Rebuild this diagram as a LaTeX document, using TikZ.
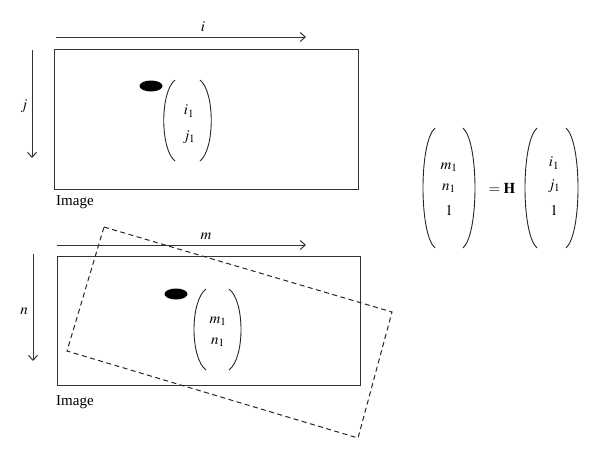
\documentclass[tikz,border=0pt]{standalone}
\usepackage{mathptmx}
\usepackage{fontspec}
\setmainfont{Liberation Serif}
\usetikzlibrary{arrows.meta,shapes.geometric}
\begin{document}
\begin{tikzpicture}[x=1pt,y=-1pt,
  frame/.style={draw=black!80,line width=1pt},
  axis/.style={draw=black!80,line width=1pt,-{Straight Barb[length=5pt,width=9pt]}},
  dot/.style={ellipse,fill=black,inner sep=0pt,minimum width=23pt,minimum height=11pt},
  lbl/.style={font=\fontsize{15}{17}\selectfont,inner sep=0pt},
  par/.style={draw=black!85,line width=0.9pt}]
\useasboundingbox (0,0) rectangle (600,461);
% top image
\coordinate (tl1) at (54,49.5); \coordinate (br1) at (358,189);
\draw[frame] (tl1) rectangle (br1);
\coordinate (ia) at (56,37); \coordinate (ib) at (306,37);
\draw[axis] (ia) -- (ib);
\node[lbl] (il) at (203,27) {$i$};
\coordinate (ja) at (32,50); \coordinate (jb) at (32,158);
\draw[axis] (ja) -- (jb);
\node[lbl] (jl) at (24,106) {$j$};
\node[dot] (d1) at (151,86) {};
\node[lbl,anchor=west] (im1) at (56,202) {Image};
\node[lbl] (v1a) at (189,111) {$i_1$};
\node[lbl] (v1b) at (189,137) {$j_1$};
\draw[par] (175,80) .. controls (160,92) and (160,149) .. (175,161);
\draw[par] (200,80) .. controls (215,92) and (215,149) .. (200,161);
% bottom image
\coordinate (tl2) at (57,256.5); \coordinate (br2) at (360,385.5);
\draw[frame] (tl2) rectangle (br2);
\coordinate (ma) at (57,245); \coordinate (mb) at (306,245);
\draw[axis] (ma) -- (mb);
\node[lbl] (ml) at (206,236) {$m$};
\coordinate (na) at (33,254); \coordinate (nb) at (33,361);
\draw[axis] (na) -- (nb);
\node[lbl] (nl) at (24,311) {$n$};
\node[dot] (d2) at (176,294) {};
\node[lbl,anchor=west] (im2) at (56,402) {Image};
\node[lbl] (v2a) at (218,321) {$m_1$};
\node[lbl] (v2b) at (218,342) {$n_1$};
\draw[par] (206,289) .. controls (190,301) and (190,358) .. (206,370);
\draw[par] (229,289) .. controls (245,301) and (245,358) .. (229,370);
% warped dashed frame
\coordinate (w1) at (104,227); \coordinate (w2) at (392,312);
\coordinate (w3) at (358,438); \coordinate (w4) at (67,351);
\draw[draw=black!85,line width=1pt,dash pattern=on 5pt off 3.5pt] (w1) -- (w2) -- (w3) -- (w4) -- cycle;
% equation
\node[lbl] (e1) at (449,167) {$m_1$};
\node[lbl] (e2) at (449,188) {$n_1$};
\node[lbl] (e3) at (449,210) {$1$};
\draw[par] (435,128) .. controls (419,142) and (419,234) .. (435,248);
\draw[par] (463,128) .. controls (479,142) and (479,234) .. (463,248);
\node[lbl] (eq) at (502,188) {$=\mathbf{H}$};
\node[lbl] (f1) at (554,163) {$i_1$};
\node[lbl] (f2) at (554,186) {$j_1$};
\node[lbl] (f3) at (554,210) {$1$};
\draw[par] (537,128) .. controls (521,142) and (521,234) .. (537,248);
\draw[par] (566,128) .. controls (582,142) and (582,234) .. (566,248);
\end{tikzpicture}
\end{document}
